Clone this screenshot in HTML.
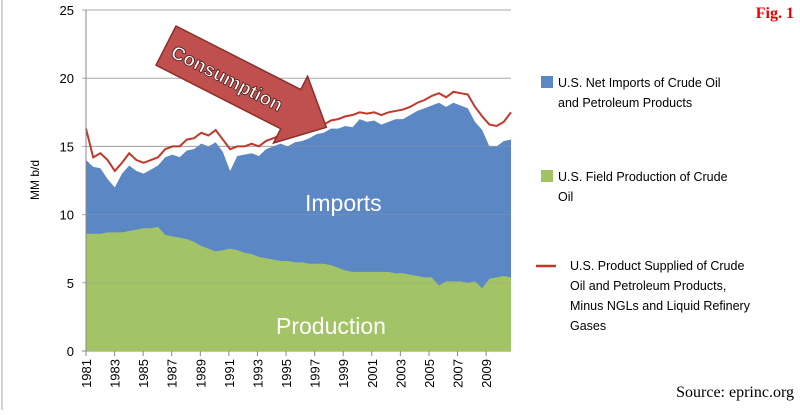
<!DOCTYPE html>
<html><head><meta charset="utf-8"><style>
body{margin:0;background:#fff;width:800px;height:410px;overflow:hidden;font-family:"Liberation Sans",sans-serif}
</style></head><body>
<svg width="800" height="410" xmlns="http://www.w3.org/2000/svg">
<line x1="2" y1="0" x2="2" y2="410" stroke="#aaa"/>
<g id="grid"></g>
<g id="areas"></g>
<g id="axes"></g>
<g transform="translate(176,26) rotate(27)">
<polygon points="0,0 140,0 140,-15 180,22 140,60 140,44 0,44" fill="#c0504d" stroke="#8c2f2c" stroke-width="1.5"/>
<text x="8" y="30" font-size="19" font-weight="bold" fill="#fff" stroke="#4a1614" stroke-width="0.8">Consumption</text>
</g>
<text x="305" y="211" font-size="23" fill="#fff">Imports</text>
<text x="276" y="334" font-size="23" fill="#fff">Production</text>
<text x="0" y="0" transform="translate(39,180) rotate(-90)" text-anchor="middle" font-size="12" fill="#000">MM b/d</text>
<g font-size="12.5" fill="#000">
<rect x="541" y="76" width="12" height="12" fill="#5b87c5"/>
<text x="558" y="87">U.S. Net Imports of Crude Oil</text>
<text x="558" y="107">and Petroleum Products</text>
<rect x="541" y="170" width="12" height="12" fill="#a3c466"/>
<text x="558" y="181">U.S. Field Production of Crude</text>
<text x="558" y="201">Oil</text>
<line x1="536" y1="266" x2="556" y2="266" stroke="#c0392b" stroke-width="2.5"/>
<text x="570" y="270">U.S. Product Supplied of Crude</text>
<text x="570" y="290">Oil and Petroleum Products,</text>
<text x="570" y="310">Minus NGLs and Liquid Refinery</text>
<text x="570" y="330">Gases</text>
</g>
<text x="794" y="18" text-anchor="end" font-family="Liberation Serif" font-weight="bold" font-size="16" fill="#e00">Fig. 1</text>
<text x="794" y="397" text-anchor="end" font-family="Liberation Serif" font-size="16" fill="#000">Source: eprinc.org</text>
</svg>
<script>
const yearTicks=["1981","1983","1985","1987","1989","1991","1993","1995","1997","1999","2001","2003","2005","2007","2009"];
const yTicks=[0,5,10,15,20,25];
const production=[8.6,8.6,8.6,8.7,8.7,8.7,8.8,8.9,9.0,9.0,9.1,8.5,8.4,8.3,8.2,8.0,7.7,7.5,7.3,7.4,7.5,7.4,7.2,7.1,6.9,6.8,6.7,6.6,6.6,6.5,6.5,6.4,6.4,6.4,6.3,6.1,5.9,5.8,5.8,5.8,5.8,5.8,5.8,5.7,5.7,5.6,5.5,5.4,5.4,4.8,5.1,5.1,5.1,5.0,5.1,4.6,5.3,5.4,5.5,5.4];
const netImports=[5.4,4.9,4.8,3.9,3.3,4.3,4.8,4.3,4.0,4.3,4.5,5.7,6.0,5.9,6.5,6.8,7.5,7.5,8.0,7.2,5.7,6.9,7.2,7.4,7.4,8.0,8.3,8.6,8.4,8.8,8.9,9.2,9.5,9.6,10.0,10.2,10.6,10.6,11.2,11.0,11.1,10.8,11.0,11.3,11.3,11.7,12.1,12.4,12.6,13.4,12.8,13.1,12.9,12.8,11.7,11.6,9.7,9.6,9.9,10.1];
const consumption=[16.3,14.2,14.5,14.0,13.2,13.8,14.5,14.0,13.8,14.0,14.2,14.8,15.0,15.0,15.5,15.6,16.0,15.8,16.2,15.5,14.8,15.0,15.0,15.2,15.0,15.4,15.6,15.8,15.8,15.9,16.0,16.3,16.5,16.6,16.9,17.0,17.2,17.3,17.5,17.4,17.5,17.3,17.5,17.6,17.7,17.9,18.2,18.4,18.7,18.9,18.6,19.0,18.9,18.8,17.9,17.2,16.6,16.5,16.8,17.5];
const NS="http://www.w3.org/2000/svg";
const x0=86,x1=511,yb=351,yt=10;
const yS=v=>yb-(v/25)*(yb-yt);
const xYear=y=>x0+(y-1981)*14.29;
const xI=i=>x0+i*(x1-x0)/(consumption.length-1);
function mk(tag,attrs,parent){const e=document.createElementNS(NS,tag);for(const k in attrs)e.setAttribute(k,attrs[k]);document.getElementById(parent).appendChild(e);return e;}
yTicks.forEach(v=>{
 const l=mk('line',{x1:x0-4,x2:x1,y1:yS(v),y2:yS(v),stroke:v===0?'#888':'#aaa'},'grid');
 
 
 const t=mk('text',{x:x0-12,y:yS(v)+5,'text-anchor':'end','font-size':'13',fill:'#000'},'axes');
 t.textContent=v;
 
 
});
let pTop='',iTop='',line='';
production.forEach((p,i)=>{pTop+=`L${xI(i)},${yS(p)} `;iTop+=`L${xI(i)},${yS(p+netImports[i])} `;line+=(i?'L':'M')+`${xI(i)},${yS(consumption[i])} `;});
const imp=mk('path',{d:`M${x0},${yb} ${iTop}L${x1},${yb}Z`,fill:'#5b87c5'},'areas');


const prod=mk('path',{d:`M${x0},${yb} ${pTop}L${x1},${yb}Z`,fill:'#a3c466'},'areas');


yTicks.slice(1,4).forEach(v=>{const g=mk('line',{x1:x0,x2:x1,y1:yS(v),y2:yS(v),stroke:'#999','stroke-opacity':'0.35'},'areas');
 
 });
const cl=mk('path',{d:line,fill:'none',stroke:'#c0392b','stroke-width':'2'},'areas');


const ax=mk('line',{x1:x0,x2:x0,y1:yt,y2:yb+4,stroke:'#888'},'axes');


yearTicks.forEach(y=>{const x=xYear(+y);
 const tk=mk('line',{x1:x,x2:x,y1:yb,y2:yb+5,stroke:'#888'},'axes');
 
 
 const t=mk('text',{transform:`translate(${x+5},${yb+8}) rotate(-90)`,'text-anchor':'end','font-size':'13',fill:'#000'},'axes');
 t.textContent=y;
 
 
});
</script>
</body></html>
